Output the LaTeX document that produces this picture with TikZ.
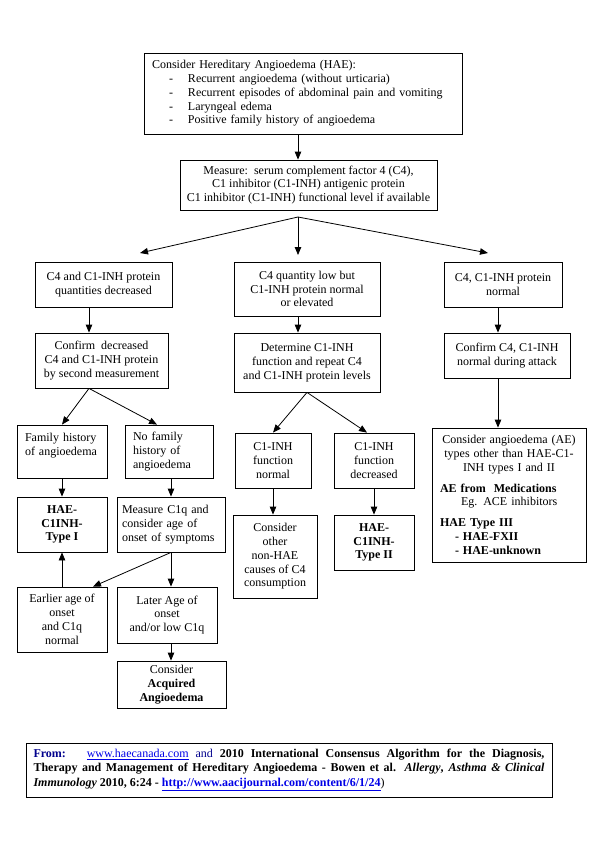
\documentclass[tikz,border=0pt]{standalone}
\usepackage{fontspec}
\setmainfont{Liberation Serif}
\usetikzlibrary{arrows.meta}
\definecolor{linkblue}{RGB}{0,0,230}
\definecolor{fromblue}{RGB}{0,0,140}

\begin{document}
\begin{tikzpicture}[x=1pt, y=-1pt,
    box/.style={draw, line width=0.8pt, inner sep=3pt, align=center, font=\fontsize{12}{13.8}\selectfont},
    lbox/.style={box, align=left, inner xsep=8pt},
    arr/.style={line width=0.8pt, -{Triangle[length=8pt,width=6.5pt]}}]
            \useasboundingbox (0,0) rectangle (600,849);

            % columns and split points
            \coordinate (colL) at (89,0);
            \coordinate (colM) at (298,0);
            \coordinate (colR) at (498,0);
            \coordinate (colC) at (171,0);
            \coordinate (split) at (298,217);
            \coordinate (fanL) at (140,253);
            \coordinate (fanM) at (298,255);
            \coordinate (fanR) at (488,253);

            \node[lbox, text width=302pt, minimum height=81pt] (hae) at (303,93.5) {Consider Hereditary Angioedema (HAE):\\
                \hspace*{17pt}\makebox[19pt][l]{-}Recurrent angioedema (without urticaria)\\
                \hspace*{17pt}\makebox[19pt][l]{-}Recurrent episodes of abdominal pain and vomiting\\
                \hspace*{17pt}\makebox[19pt][l]{-}Laryngeal edema\\
                \hspace*{17pt}\makebox[19pt][l]{-}Positive family history of angioedema};
            \node[box, minimum width=257pt, minimum height=50pt] (measure) at (308.5,185) {Measure:\ \ serum complement factor 4 (C4),\\ C1 inhibitor (C1-INH) antigenic protein\\ C1 inhibitor (C1-INH) functional level if available};

            % second row
            \node[box, minimum width=137pt, minimum height=45pt] (c4low) at (103.5,284.5) {C4 and C1-INH protein\\ quantities decreased};
            \node[box, minimum width=146pt, minimum height=54pt] (c4only) at (307,289) {C4 quantity low but\\ C1-INH protein normal\\ or elevated};
            \node[box, minimum width=118pt, minimum height=45pt] (c4norm) at (503,284.5) {C4, C1-INH protein\\ normal};

            % third row
            \node[box, minimum width=133pt, minimum height=55pt] (confirm) at (101.5,360.5) {Confirm\ \ decreased\\ C4 and C1-INH protein\\ by second measurement};
            \node[box, minimum width=146pt, minimum height=59pt] (determine) at (307,362.5) {Determine C1-INH\\ function and repeat C4\\ and C1-INH protein levels};
            \node[box, minimum width=126pt, minimum height=45pt] (confattack) at (507,355.5) {Confirm C4, C1-INH\\ normal during attack};

            \node[lbox, text width=74pt, minimum height=53pt] (famhist) at (62,451.5) {Family history\\ of angioedema\\ \mbox{}};
            \node[lbox, text width=72pt, minimum height=53pt] (nofam) at (169,451.5) {No family\\ history of\\ angioedema};
            \node[box, minimum width=76pt, minimum height=55pt] (fnnormal) at (273,460.5) {C1-INH\\ function\\ normal};
            \node[box, minimum width=80pt, minimum height=55pt] (fndecr) at (374,460.5) {C1-INH\\ function\\ decreased};
            \node[lbox, text width=138pt, minimum height=134pt] (other) at (509,495) {{\centering Consider angioedema (AE)\\ types other than HAE-C1-\\ INH types I and II\par}\vspace{7pt}
                \textbf{AE from\ \ Medications}\\ \hspace*{21pt}Eg. ACE inhibitors\\[7pt]
                \textbf{HAE Type III}\\ \hspace*{15pt}\textbf{- HAE-FXII}\\ \hspace*{15pt}\textbf{- HAE-unknown}};

            \node[box, minimum width=90pt, minimum height=55pt, font=\fontsize{12}{13.8}\selectfont\bfseries] (type1) at (62,524.5) {HAE-\\ C1INH-\\ Type I};
            \node[lbox, text width=98pt, inner xsep=5pt, minimum height=55pt] (c1q) at (171,524.5) {Measure C1q and\\ consider age of\\ onset of symptoms};
            \node[box, minimum width=84pt, minimum height=83pt] (nonhae) at (275,556.5) {Consider\\ other\\ non-HAE\\ causes of C4\\ consumption};
            \node[box, minimum width=80pt, minimum height=55pt, font=\fontsize{12}{13.8}\selectfont\bfseries] (type2) at (374,542.5) {HAE-\\ C1INH-\\ Type II};

            \node[box, minimum width=90pt, minimum height=65pt] (earlier) at (62,619.5) {Earlier age of\\ onset\\ and C1q\\ normal};
            \node[box, minimum width=100pt, minimum height=56pt] (later) at (167,615) {Later Age of\\ onset\\ and/or low C1q};
            \node[box, minimum width=109pt, minimum height=47pt] (acquired) at (171.5,684.5) {Consider\\ \textbf{Acquired}\\ \textbf{Angioedema}};

            \node[box, text width=511pt, inner xsep=7.5pt, minimum height=54pt, align=justify, font=\fontsize{12}{14.3}\selectfont\bfseries] (source) at (289,770) {\textcolor{fromblue}{From:}\ \ \ \textcolor{linkblue}{\mdseries\underline{www.haecanada.com}} \textcolor{fromblue}{\mdseries and} 2010 International Consensus Algorithm for the Diagnosis,\linebreak
                Therapy and Management of Hereditary Angioedema - Bowen et al. \textit{Allergy}, \textit{Asthma \& Clinical}\linebreak
                \textit{Immunology} 2010, 6:24 - \textcolor{linkblue}{\underline{http://www.aacijournal.com/content/6/1/24}}{\mdseries)}};

            % connectors
            \draw[arr] (hae.south -| colM) -- (measure.north -| colM);
            \draw[arr] (split) -- (fanL);
            \draw[arr] (split) -- (fanM);
            \draw[arr] (split) -- (fanR);
            \draw[arr] (c4low.south -| colL) -- (confirm.north -| colL);
            \draw[arr] (c4only.south -| colM) -- (determine.north -| colM);
            \draw[arr] (c4norm.south -| colR) -- (confattack.north -| colR);
            \draw[arr] (confirm.south -| colL) -- (famhist.north);
            \draw[arr] (confirm.south -| colL) -- ([xshift=-12pt]nofam.north);
            \draw[arr] (determine.south) -- (fnnormal.north);
            \draw[arr] (determine.south) -- ([xshift=-7pt]fndecr.north);
            \draw[arr] (confattack.south -| colR) -- (other.north -| colR);
            \draw[arr] (famhist.south) -- (type1.north);
            \draw[arr] (nofam.south -| colC) -- (c1q.north -| colC);
            \draw[arr] (fnnormal.south) -- (fnnormal.south |- nonhae.north);
            \draw[arr] (fndecr.south) -- (type2.north);
            \draw[arr] (earlier.north) -- (type1.south);
            \draw[arr] (c1q.south -| colC) -- ([xshift=31pt]earlier.north);
            \draw[arr] (c1q.south -| colC) -- (later.north -| colC);
            \draw[arr] (later.south -| colC) -- (acquired.north -| colC);
        \end{tikzpicture}
\end{document}
